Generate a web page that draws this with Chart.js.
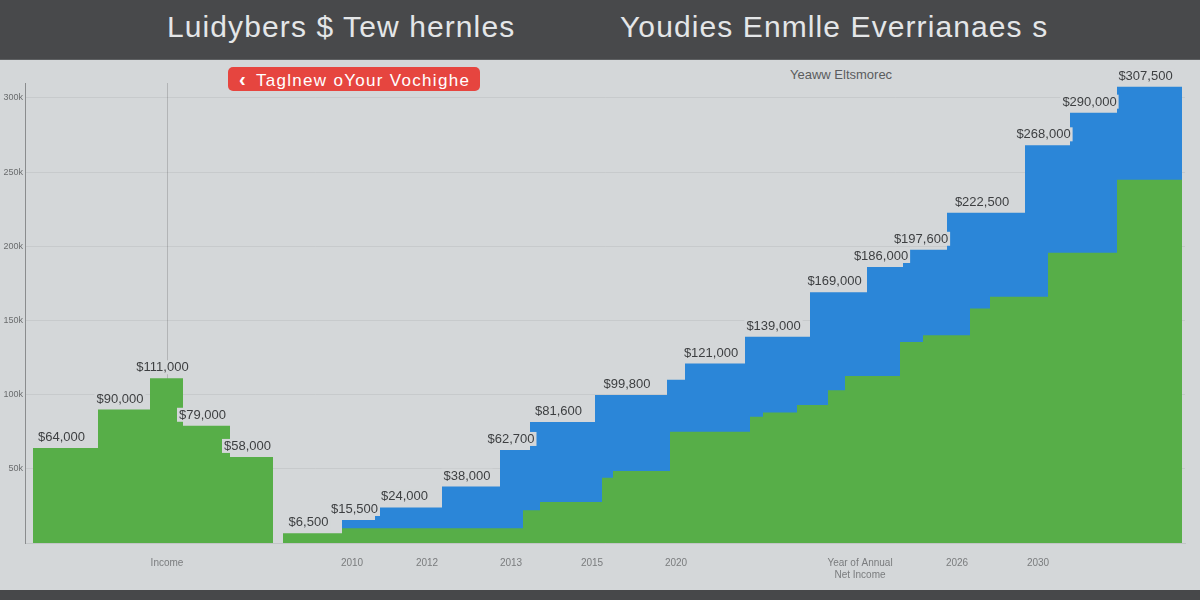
<!DOCTYPE html>
<html>
<head>
<meta charset="utf-8">
<script src="https://cdn.jsdelivr.net/npm/chart.js@4"></script>
<style>
  body { margin: 0; width: 1200px; height: 600px; background: #d4d7d9; position: relative; overflow: hidden;
         font-family: "Liberation Sans", Arial, sans-serif; }
  #header { position: absolute; left: 0; top: 0; width: 1200px; height: 60px; background: #48494b;
            border-bottom: 1px solid #5e6062; box-sizing: border-box; }
  .title { position: absolute; top: 10px; font-size: 30px; letter-spacing: 1.1px; color: #e4e6e8; white-space: nowrap; }
  #footer { position: absolute; left: 0; top: 590px; width: 1200px; height: 10px; background: #47484a; }
  #toggle { position: absolute; left: 228px; top: 67px; width: 252px; height: 24px; background: #e6453f;
            border-radius: 5px; color: #fff; font-size: 17px; letter-spacing: 1.3px; line-height: 24px;
            box-sizing: border-box; padding-left: 11px; white-space: nowrap; }
  #toggle b { font-size: 20px; margin-right: 9px; }
  #note { position: absolute; left: 790px; top: 67px; font-size: 13px; color: #5a5c5e; }
  #wrap { position: absolute; left: 0; top: 60px; width: 1200px; height: 530px; }
</style>
</head>
<body>
<div id="header">
  <div class="title" style="left:167px">Luidybers $ Tew hernles</div>
  <div class="title" style="left:620px">Youdies Enmlle Everrianaes s</div>
</div>
<div id="toggle"><b>&lsaquo;</b>Taglnew oYour Vochighe</div>
<div id="note">Yeaww Eltsmorec</div>
<div id="wrap"><canvas id="chart"></canvas></div>
<div id="footer"></div>

<script>
// step starts (period index) and values
const greenX = [0.8, 7.3, 12.5, 15.8, 20.5, 24.8, 25.8, 31.7, 49.8, 51.5, 57.7, 58.8, 64.5, 72.5, 73.8, 77.2, 80.3, 82, 87.5, 89.8, 94.5, 96.5, 102.3, 109.2];
const greenY = [64000, 90000, 111000, 79000, 58000, 0, 6500, 10000, 22000, 27600, 44000, 48500, 75000, 85000, 88000, 93000, 103000, 112600, 135500, 140000, 158000, 166000, 195600, 244800];
const greenLabel = [1, 1, 1, 1, 1, 0, 1, 0, 0, 0, 0, 0, 0, 0, 0, 0, 0, 0, 0, 0, 0, 0, 0, 0];

const blueX = [31.7, 35, 41.7, 47.5, 50.5, 57, 64.2, 66, 72, 78.5, 84.2, 87.8, 92.2, 100, 104.5, 109.2];
const blueY = [15500, 24000, 38000, 62700, 81600, 99800, 110000, 121000, 139000, 169000, 186000, 197600, 222500, 268000, 290000, 307500];
const blueLabel = [1, 1, 1, 1, 1, 1, 0, 1, 1, 1, 1, 1, 1, 1, 1, 1];

const seriesEnd = 115.7;

const xTickPos = [14.2, 32.7, 40.2, 48.6, 56.7, 65.1, 83.5, 93.2, 101.3];
const xTickLabels = ['Income', '2010', '2012', '2013', '2015', '2020', ['Year of Annual', 'Net Income'], '2026', '2030'];
const yTicks = [0, 50000, 100000, 150000, 200000, 250000, 300000];

function steps(xs, ys) {
    let pts = xs.map((x, i) => ({ x: x, y: ys[i] }));
    pts.push({ x: seriesEnd, y: ys[ys.length - 1] });
    return pts;
}

const labelFlags = [greenLabel, blueLabel];

// value labels above each step
const stepLabels = {
    id: 'stepLabels',
    afterDatasetsDraw(chart) {
        const ctx = chart.ctx;
        const xs = chart.scales.x, ys = chart.scales.y;
        ctx.save();
        ctx.font = '13px "Liberation Sans", Arial, sans-serif';
        ctx.textAlign = 'center';
        ctx.textBaseline = 'bottom';
        chart.data.datasets.forEach((ds, d) => {
            ds.data.forEach((p, i) => {
                if (!labelFlags[d][i]) return;
                const next = ds.data[i + 1];
                const cx = (xs.getPixelForValue(p.x) + xs.getPixelForValue(next.x)) / 2 - 4;
                const base = ys.getPixelForValue(p.y) - 4;
                const text = '$' + p.y.toLocaleString('en-US');
                const w = ctx.measureText(text).width;
                ctx.fillStyle = '#d4d7d9';
                ctx.fillRect(cx - w / 2 - 2, base - 14, w + 4, 14);
                ctx.fillStyle = '#3d3f41';
                ctx.fillText(text, cx, base);
            });
        });
        ctx.restore();
    }
};

new Chart(document.getElementById('chart'), {
    type: 'line',
    data: {
        datasets: [{
            label: 'Net income',
            data: steps(greenX, greenY),
            stepped: 'before',
            fill: 'origin',
            backgroundColor: '#57ae48',
            borderWidth: 0,
            pointRadius: 0
        }, {
            label: 'Estimate',
            data: steps(blueX, blueY),
            stepped: 'before',
            fill: 'origin',
            backgroundColor: '#2b86d8',
            borderWidth: 0,
            pointRadius: 0
        }]
    },
    options: {
        responsive: true,
        maintainAspectRatio: false,
        animation: false,
        layout: { padding: { top: 23, right: 15, left: 0, bottom: 0 } },
        plugins: { legend: { display: false }, tooltip: { enabled: false } },
        scales: {
            x: {
                type: 'linear',
                min: 0,
                max: 116,
                afterBuildTicks: axis => { axis.ticks = xTickPos.map(v => ({ value: v })); },
                afterFit: s => { s.height = 47; },
                ticks: {
                    autoSkip: false,
                    maxRotation: 0,
                    padding: 14,
                    color: '#7a7c7e',
                    font: { size: 10 },
                    callback: (v, i) => xTickLabels[i]
                },
                grid: {
                    drawTicks: false,
                    color: c => c.index === 0 ? 'rgba(0,0,0,0.16)' : 'rgba(0,0,0,0)'
                },
                border: { color: '#c2c5c7' }
            },
            y: {
                min: 0,
                max: 310000,
                afterBuildTicks: axis => { axis.ticks = yTicks.map(v => ({ value: v })); },
                afterFit: s => { s.width = 25; },
                ticks: {
                    padding: 2,
                    color: '#6a6c6e',
                    font: { size: 9 },
                    callback: v => v === 0 ? '' : (v / 1000) + 'k'
                },
                grid: { drawTicks: false, color: 'rgba(0,0,0,0.06)' },
                border: { color: '#8a8c8e' }
            }
        }
    },
    plugins: [stepLabels]
});
</script>
</body>
</html>
